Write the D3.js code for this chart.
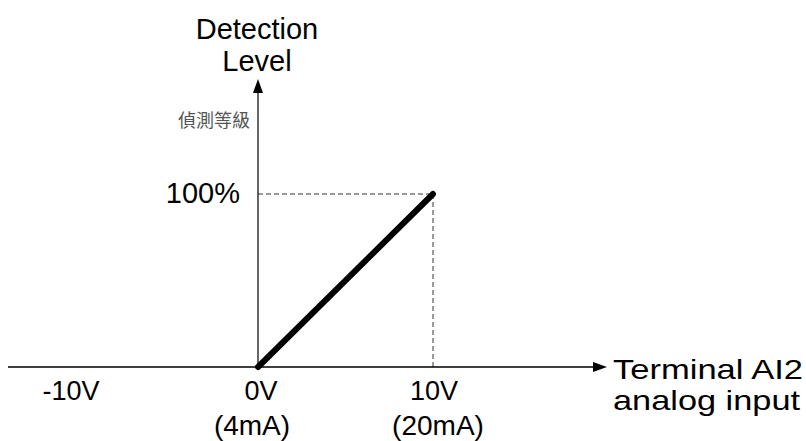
<!DOCTYPE html>
<html><head><meta charset="utf-8">
<script src="https://cdn.jsdelivr.net/npm/d3@7"></script>
<style>
html,body{margin:0;padding:0;background:#fff;}
svg{display:block;}
</style></head>
<body>
<script>
// Data
const xTicks = [-10, 0, 10];
const xTickLabels = ["-10V", "0V", "10V"];
const xTickSubLabels = ["", "(4mA)", "(20mA)"];
const lineX = [0, 10];
const lineY = [0, 100];
const yTickValues = [100];
const yTickLabels = ["100%"];
const yTitle = ["Detection", "Level"];
const yTitleZh = "偵測等級";
const xTitle = ["Terminal AI2", "analog input"];

const W = 806, H = 441;
const svg = d3.select("body").append("svg").attr("width", W).attr("height", H);

const x = d3.scaleLinear().domain([0, 10]).range([258, 433]);
const y = d3.scaleLinear().domain([0, 100]).range([367, 194]);

const sans = "'Liberation Sans', Arial, sans-serif";

// axes
const x0 = x(0), y0 = y(0);
svg.append("line").attr("x1", 8).attr("x2", 595).attr("y1", y0).attr("y2", y0)
  .attr("stroke", "#000").attr("stroke-width", 1.4);
svg.append("path").attr("d", `M607,${y0} L593,${y0-5} L593,${y0+5} Z`).attr("fill", "#000");
svg.append("line").attr("x1", x0).attr("x2", x0).attr("y1", y0 + 1).attr("y2", 92)
  .attr("stroke", "#000").attr("stroke-width", 1.2);
svg.append("path").attr("d", `M${x0},79 L${x0-5},93 L${x0+5},93 Z`).attr("fill", "#000");

// dashed guides
svg.append("line").attr("x1", x0).attr("x2", x(10)).attr("y1", y(100)).attr("y2", y(100))
  .attr("stroke", "#000").attr("stroke-width", 0.8).attr("stroke-dasharray", "5,3");
svg.append("line").attr("x1", x(10)).attr("x2", x(10)).attr("y1", y(100)).attr("y2", y0)
  .attr("stroke", "#000").attr("stroke-width", 0.8).attr("stroke-dasharray", "5,3");

// main line
const pts = lineX.map((v, i) => [v, lineY[i]]);
svg.append("path").datum(pts)
  .attr("d", d3.line().x(d => x(d[0])).y(d => y(d[1])))
  .attr("stroke", "#000").attr("stroke-width", 6).attr("fill", "none").attr("stroke-linecap", "round");

// x tick labels
const xLabelOffsets = [0, 3, 1];
const xSubOffsets = [0, -6, 5];
xTicks.forEach((t, i) => {
  const xl = t === -10 ? 71 : x(t) + xLabelOffsets[i];
  svg.append("text").attr("x", xl).attr("y", 400).attr("text-anchor", "middle")
    .attr("font-family", sans).attr("font-size", 27).text(xTickLabels[i]);
  if (xTickSubLabels[i]) {
    svg.append("text").attr("x", x(t) + xSubOffsets[i]).attr("y", 435).attr("text-anchor", "middle")
      .attr("font-family", sans).attr("font-size", 28).text(xTickSubLabels[i]);
  }
});

// y tick label
yTickValues.forEach((v, i) => {
  svg.append("text").attr("x", 240).attr("y", y(v) + 9).attr("text-anchor", "end")
    .attr("font-family", sans).attr("font-size", 29).text(yTickLabels[i]);
});

// y title
yTitle.forEach((t, i) => {
  svg.append("text").attr("x", 257).attr("y", 39 + i * 32).attr("text-anchor", "middle")
    .attr("font-family", sans).attr("font-size", 29).text(t);
});
svg.append("text").attr("x", 250).attr("y", 127).attr("text-anchor", "end")
  .attr("font-family", "'Noto Sans CJK TC', sans-serif").attr("font-size", 18).attr("fill", "#555").text(yTitleZh);

// x title
const xTitleLen = [190, 187];
xTitle.forEach((t, i) => {
  svg.append("text").attr("x", 613).attr("y", 379 + i * 31)
    .attr("font-family", sans).attr("font-size", 28)
    .attr("textLength", xTitleLen[i]).attr("lengthAdjust", "spacingAndGlyphs").text(t);
});
</script>
</body></html>
